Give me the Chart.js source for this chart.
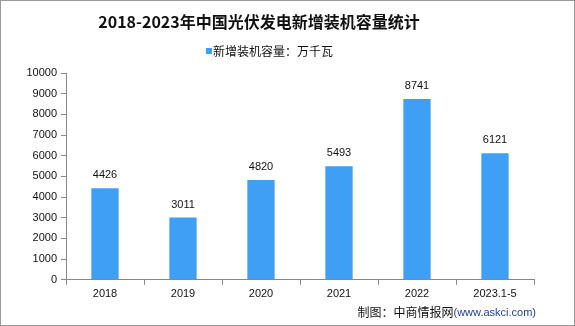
<!DOCTYPE html>
<html><head><meta charset="utf-8">
<script src="https://cdn.jsdelivr.net/npm/chart.js@4/dist/chart.umd.min.js"></script>
<style>
html,body{margin:0;padding:0;background:#fff;}
#wrap{position:relative;width:575px;height:326px;box-sizing:border-box;border:1px solid #999;}
canvas{display:block;}
</style></head>
<body><div id="wrap"><canvas id="c" width="573" height="324"></canvas></div>
<script>
const categories = ["2018","2019","2020","2021","2022","2023.1-5"];
const values = [4426,3011,4820,5493,8741,6121];
const yTicks = [0,1000,2000,3000,4000,5000,6000,7000,8000,9000,10000];
const seriesName = "新增装机容量：万千瓦";
const titleText = "2018-2023年中国光伏发电新增装机容量统计";
const sourceText = "制图：中商情报网";
const sourceUrl = "(www.askci.com)";

const CJK = '"Noto Sans CJK SC", "Noto Sans", sans-serif';
const NUM = '"Liberation Sans", "DejaVu Sans", sans-serif';

const decor = {
  id:'decor',
  afterDraw(chart){
    const ctx = chart.ctx;
    ctx.save();
    ctx.fillStyle = '#111';
    ctx.font = 'bold 16px ' + CJK;
    ctx.textAlign = 'center';
    ctx.textBaseline = 'middle';
    ctx.fillText(titleText, 258, 21);
    ctx.fillStyle = '#3f9ff5';
    ctx.fillRect(205, 47, 6, 6);
    ctx.fillStyle = '#111';
    ctx.font = '12px ' + CJK;
    ctx.textAlign = 'left';
    ctx.fillText(chart.data.datasets[0].label, 212, 50);
    const meta = chart.getDatasetMeta(0);
    ctx.font = '11px ' + NUM;
    ctx.textAlign = 'center';
    ctx.textBaseline = 'alphabetic';
    meta.data.forEach((bar,i)=>{
      ctx.fillText(String(chart.data.datasets[0].data[i]), bar.x, bar.y - 10);
    });
    ctx.font = '12px ' + CJK;
    ctx.textAlign = 'left';
    ctx.textBaseline = 'middle';
    const w1 = ctx.measureText(sourceText).width;
    ctx.font = '11px ' + NUM;
    const w2 = ctx.measureText(sourceUrl).width;
    const x0 = 535 - w1 - w2;
    ctx.font = '12px ' + CJK;
    ctx.fillStyle = '#111';
    ctx.fillText(sourceText, x0, 311);
    ctx.font = '11px ' + NUM;
    ctx.fillStyle = '#1f3f9f';
    ctx.fillText(sourceUrl, x0 + w1, 312);
    ctx.restore();
  }
};

new Chart(document.getElementById('c'), {
  type:'bar',
  data:{
    labels: categories,
    datasets:[{
      label: seriesName,
      data: values,
      backgroundColor:'#3f9ff5',
      borderWidth:0,
      barPercentage:0.35,
      categoryPercentage:1.0
    }]
  },
  options:{
    responsive:false,
    animation:false,
    layout:{padding:{left:0,right:40,top:72,bottom:21}},
    plugins:{legend:{display:false},title:{display:false},tooltip:{enabled:false}},
    scales:{
      x:{
        offset:true,
        grid:{display:true,drawOnChartArea:false,offset:true,tickLength:5,color:'#888'},
        border:{color:'#888',width:1},
        ticks:{color:'#111',font:{family:NUM,size:11},padding:3,maxRotation:0}
      },
      y:{
        min:0,max:10000,
        afterBuildTicks(s){ s.ticks = yTicks.map(v=>({value:v})); },
        afterFit(s){ s.width = 65; },
        grid:{display:true,drawOnChartArea:false,tickLength:5,color:'#888'},
        border:{color:'#888',width:1},
        ticks:{color:'#111',font:{family:NUM,size:11},padding:4,callback:(v)=>String(v)}
      }
    }
  },
  plugins:[decor]
});
</script></body></html>
